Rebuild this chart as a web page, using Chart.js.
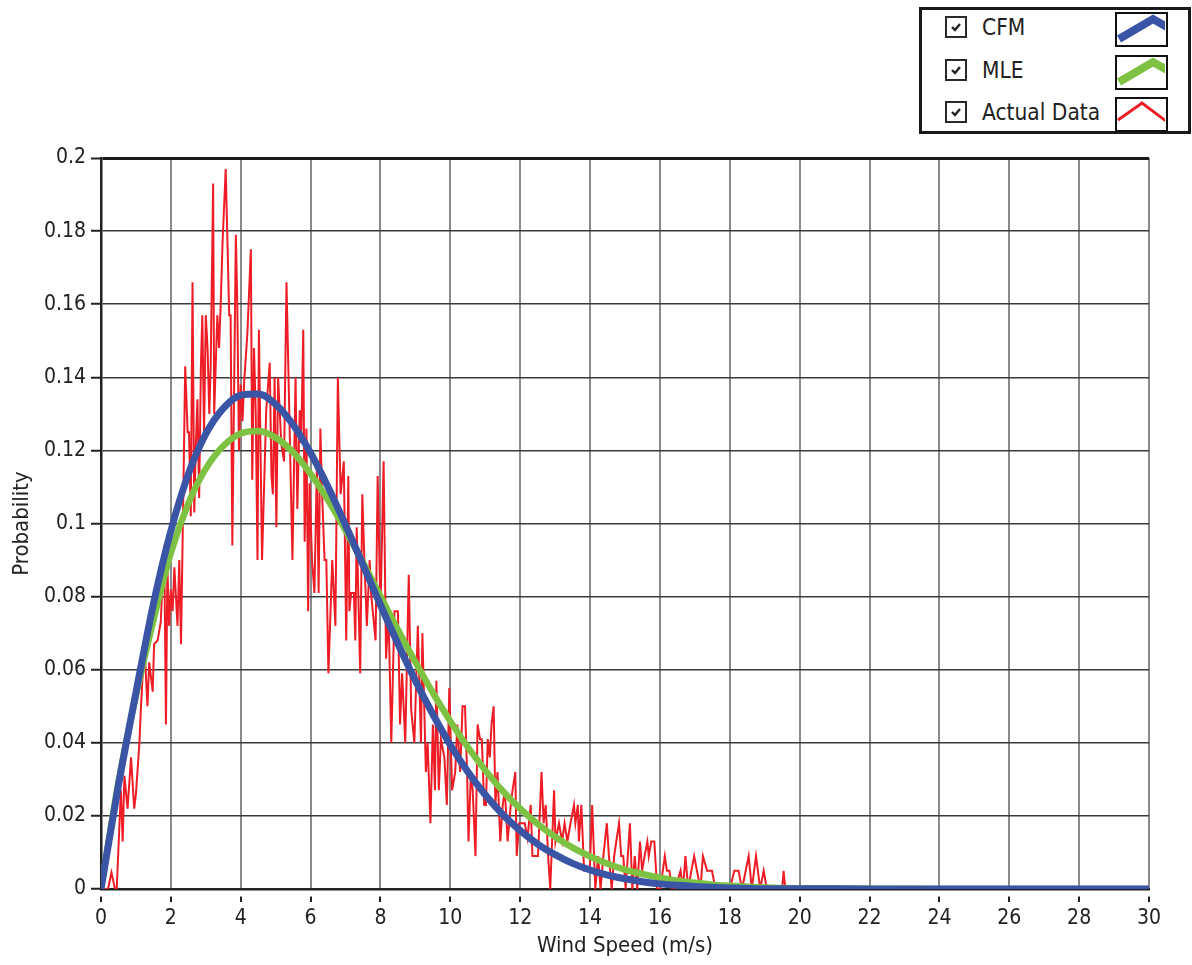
<!DOCTYPE html>
<html>
<head>
<meta charset="utf-8">
<script src="https://cdn.jsdelivr.net/npm/chart.js@4.4.1/dist/chart.umd.min.js"></script>
<style>
  html, body { margin: 0; padding: 0; background: #ffffff; }
  #wrap { position: relative; width: 1192px; height: 965px; overflow: hidden; }
  #c { position: absolute; left: 0; top: 0; }
  #legend {
    position: absolute; left: 919px; top: 7px; width: 272px; height: 127px;
    box-sizing: border-box; border: 3px solid #1a1a1a; background: #fff;
    font-family: "DejaVu Sans Condensed", "Liberation Sans Narrow", sans-serif;
    color: #222;
  }
  .row { position: absolute; left: 0; width: 100%; height: 36px; }
  .cb { position: absolute; left: 23px; top: 4px; width: 22px; height: 22px; box-sizing: border-box; border: 2px solid #2a2a2a; }
  .lbl { position: absolute; left: 60px; top: -1px; font-size: 22.5px; line-height: 32px; white-space: nowrap; }
  .sw { position: absolute; left: 193px; top: 0px; width: 53px; height: 35px; box-sizing: border-box; border: 2.5px solid #111; }
</style>
</head>
<body>
<div id="wrap">
  <canvas id="c" width="1192" height="965"></canvas>
  <div id="legend"></div>
</div>
<script>
// ---------- data ----------
const seriesNames = ['CFM', 'MLE', 'Actual Data'];
const seriesColors = ['#3a55a5', '#7dc242', '#ee1c25'];

const fitX = [0,0.5,1,1.5,2,2.5,3,3.5,4,4.5,5,5.5,6,6.5,7,7.5,8,8.5,9,9.5,10,10.5,11,11.5,12,12.5,13,13.5,14,14.5,15,15.5,16,16.5,17,17.5,18,19,20,22,24,26,28,30];
const cfmY = [0,0.0284,0.0537,0.078,0.098,0.1135,0.1245,0.1315,0.1351,0.1354,0.1326,0.1270,0.1193,0.1100,0.0996,0.0887,0.0777,0.0671,0.0570,0.0478,0.0394,0.0321,0.0258,0.0204,0.0160,0.0123,0.0094,0.0070,0.0052,0.0038,0.0028,0.0020,0.0014,0.0010,0.0007,0.0005,0.0003,0.0001,0.0001,0,0,0,0,0];
const mleY = [0,0.0293,0.0529,0.0735,0.092,0.1055,0.1150,0.1212,0.1246,0.1253,0.1235,0.1195,0.1136,0.1064,0.0981,0.0893,0.0801,0.0709,0.0621,0.0537,0.0459,0.0388,0.0325,0.0268,0.0220,0.0178,0.0143,0.0113,0.0089,0.0069,0.0053,0.0041,0.0031,0.0023,0.0017,0.0012,0.0009,0.0004,0.0002,0.0001,0,0,0,0];

const actualX = [0,0.1,0.2,0.3,0.4,0.45,0.57,0.62,0.67,0.76,0.86,0.95,1.0,1.1,1.14,1.24,1.33,1.38,1.48,1.52,1.62,1.71,1.81,1.86,1.9,1.95,2.0,2.05,2.1,2.19,2.24,2.29,2.36,2.41,2.48,2.52,2.57,2.62,2.67,2.71,2.76,2.81,2.86,2.9,2.95,3.0,3.05,3.1,3.14,3.21,3.24,3.33,3.38,3.43,3.48,3.57,3.67,3.71,3.76,3.86,3.9,3.95,4.0,4.05,4.1,4.19,4.29,4.33,4.38,4.43,4.48,4.52,4.61,4.73,4.83,4.88,4.92,4.97,5.02,5.07,5.16,5.24,5.31,5.4,5.48,5.57,5.62,5.69,5.73,5.79,5.83,5.88,5.93,5.97,6.04,6.11,6.18,6.23,6.28,6.33,6.4,6.45,6.51,6.62,6.71,6.78,6.86,6.95,7.02,7.08,7.11,7.16,7.24,7.28,7.32,7.42,7.48,7.54,7.61,7.69,7.73,7.86,7.92,8.0,8.09,8.16,8.23,8.31,8.4,8.5,8.56,8.62,8.71,8.81,8.88,8.97,9.07,9.16,9.2,9.3,9.35,9.43,9.5,9.56,9.6,9.67,9.73,9.83,9.9,9.97,10.05,10.14,10.2,10.28,10.35,10.42,10.48,10.52,10.59,10.64,10.72,10.78,10.85,10.9,10.97,11.02,11.07,11.13,11.18,11.24,11.29,11.35,11.43,11.5,11.56,11.64,11.73,11.78,11.86,11.9,11.97,12.06,12.13,12.21,12.3,12.35,12.4,12.51,12.61,12.67,12.73,12.8,12.86,12.97,13.01,13.11,13.2,13.27,13.35,13.44,13.54,13.58,13.65,13.68,13.75,13.83,13.92,13.99,14.06,14.15,14.23,14.3,14.38,14.48,14.54,14.62,14.69,14.75,14.83,14.89,14.95,15.02,15.14,15.21,15.28,15.35,15.43,15.49,15.56,15.64,15.68,15.75,15.84,15.92,16.01,16.14,16.2,16.27,16.35,16.44,16.59,16.66,16.73,16.81,16.9,16.98,17.06,17.16,17.23,17.35,17.49,17.59,18.0,18.13,18.25,18.35,18.54,18.63,18.75,18.87,18.97,19.06,19.5,19.54,19.59,20.0];
const actualY = [0,0,0,0.0045,0,0,0.027,0.013,0.031,0.022,0.036,0.022,0.026,0.040,0.049,0.067,0.050,0.062,0.054,0.067,0.068,0.073,0.094,0.045,0.088,0.072,0.082,0.076,0.088,0.072,0.090,0.067,0.110,0.143,0.125,0.125,0.102,0.166,0.103,0.120,0.134,0.107,0.143,0.157,0.125,0.157,0.148,0.130,0.143,0.193,0.130,0.157,0.148,0.161,0.177,0.197,0.157,0.157,0.094,0.179,0.161,0.120,0.138,0.128,0.139,0.152,0.175,0.112,0.148,0.130,0.090,0.153,0.090,0.131,0.144,0.113,0.108,0.140,0.099,0.140,0.122,0.117,0.166,0.126,0.090,0.140,0.104,0.131,0.122,0.153,0.095,0.126,0.076,0.111,0.090,0.081,0.116,0.081,0.126,0.108,0.090,0.090,0.059,0.090,0.072,0.140,0.108,0.117,0.068,0.113,0.076,0.081,0.081,0.068,0.099,0.059,0.108,0.090,0.072,0.090,0.081,0.068,0.113,0.076,0.117,0.063,0.076,0.040,0.076,0.076,0.045,0.059,0.040,0.086,0.049,0.040,0.072,0.040,0.070,0.032,0.040,0.018,0.045,0.027,0.057,0.027,0.041,0.036,0.023,0.055,0.027,0.032,0.045,0.032,0.050,0.050,0.032,0.013,0.032,0.027,0.009,0.045,0.041,0.041,0.023,0.023,0.041,0.036,0.045,0.050,0.023,0.032,0.013,0.023,0.027,0.013,0.023,0.027,0.032,0.009,0.018,0.018,0.018,0.014,0.023,0.009,0.009,0.009,0.032,0.018,0.023,0.009,0,0.027,0.013,0.018,0.013,0.018,0.013,0.018,0.023,0.018,0.023,0.013,0.023,0.005,0.005,0.005,0.023,0,0.009,0,0.009,0.018,0.009,0,0.009,0.013,0.018,0.009,0.009,0,0.018,0,0.009,0,0.013,0.005,0.009,0.013,0.009,0.013,0.013,0,0,0.009,0.005,0.005,0,0,0.005,0,0.009,0,0.005,0.009,0.005,0,0.009,0.005,0.005,0,0,0.005,0.005,0,0.009,0,0.009,0,0.005,0,0,0.005,0,0];

const xTickLabels = ['0','2','4','6','8','10','12','14','16','18','20','22','24','26','28','30'];
const yTickLabels = ['0','0.02','0.04','0.06','0.08','0.1','0.12','0.14','0.16','0.18','0.2'];
const xTitle = 'Wind Speed (m/s)';
const yTitle = 'Probability';

// ---------- legend (HTML) ----------
const swatchPaths = [
  {d: 'M2,25 L36,5 L50,13', w: 8},
  {d: 'M2,25 L36,5 L50,13', w: 8},
  {d: 'M1,21 L25,4 L49,22', w: 3}
];
const legend = document.getElementById('legend');
const rowTops = [2, 45, 87];
seriesNames.forEach((name, i) => {
  const row = document.createElement('div');
  row.className = 'row';
  row.style.top = rowTops[i] + 'px';
  row.innerHTML =
    '<div class="cb"><svg width="18" height="18" style="position:absolute;left:0;top:0"><path d="M5,9 L8,12 L13,6" fill="none" stroke="#222" stroke-width="2.4"/></svg></div>' +
    '<div class="lbl">' + name + '</div>' +
    '<div class="sw"><svg width="48" height="30" style="position:absolute;left:0;top:0"><path d="' + swatchPaths[i].d +
    '" fill="none" stroke="' + seriesColors[i] + '" stroke-width="' + swatchPaths[i].w + '" stroke-linejoin="miter"/></svg></div>';
  legend.appendChild(row);
});

// ---------- chart ----------
const FONT = '"DejaVu Sans Condensed", "Liberation Sans Narrow", sans-serif';
const toXY = (xs, ys) => xs.map((x, i) => ({x: x, y: ys[i]}));

new Chart(document.getElementById('c'), {
  type: 'line',
  data: {
    datasets: [
      { label: seriesNames[0], data: toXY(fitX, cfmY), borderColor: seriesColors[0], borderWidth: 7,
        pointRadius: 0, cubicInterpolationMode: 'monotone', fill: false, borderCapStyle: 'round' },
      { label: seriesNames[1], data: toXY(fitX, mleY), borderColor: seriesColors[1], borderWidth: 6.5,
        pointRadius: 0, cubicInterpolationMode: 'monotone', fill: false, borderCapStyle: 'round' },
      { label: seriesNames[2], data: toXY(actualX, actualY), borderColor: seriesColors[2], borderWidth: 2,
        pointRadius: 0, tension: 0, fill: false }
    ]
  },
  options: {
    responsive: false,
    animation: false,
    devicePixelRatio: 1,
    layout: { padding: { left: 0, top: 158, right: 43, bottom: 0 } },
    plugins: { legend: { display: false }, tooltip: { enabled: false } },
    scales: {
      x: {
        type: 'linear', min: 0, max: 30,
        afterFit: (s) => { s.height = 76; },
        ticks: {
          stepSize: 2, autoSkip: false, maxRotation: 0, padding: 4,
          color: '#222', font: { family: FONT, size: 21 },
          callback: (v, i) => xTickLabels[i]
        },
        grid: {
          color: '#8a8a8a', lineWidth: 2,
          tickColor: '#222', tickWidth: 2, tickLength: 13, tickBorderDash: [0, 6, 8, 100]
        },
        border: { color: '#222', width: 2.5 },
        title: { display: true, text: xTitle, color: '#222', font: { family: FONT, size: 22 }, padding: { top: 0, bottom: 6 } }
      },
      y: {
        type: 'linear', min: 0, max: 0.2,
        afterFit: (s) => { s.width = 101; },
        ticks: {
          stepSize: 0.02, autoSkip: false, padding: 2,
          color: '#222', font: { family: FONT, size: 21 },
          callback: (v, i) => yTickLabels[i]
        },
        grid: {
          color: (ctx) => (ctx.tick && ctx.tick.value >= 0.2 - 1e-9) ? '#1a1a1a' : '#3a3a3a',
          lineWidth: (ctx) => (ctx.tick && ctx.tick.value >= 0.2 - 1e-9) ? 3 : 1.5,
          tickColor: '#222', tickWidth: 2, tickLength: 13, tickBorderDash: [0, 3, 10, 100]
        },
        border: { color: '#222', width: 2.5 },
        title: { display: true, text: yTitle, color: '#222', font: { family: FONT, size: 22 }, padding: { top: 9, bottom: 0 } }
      }
    }
  }
});
</script>
</body>
</html>
